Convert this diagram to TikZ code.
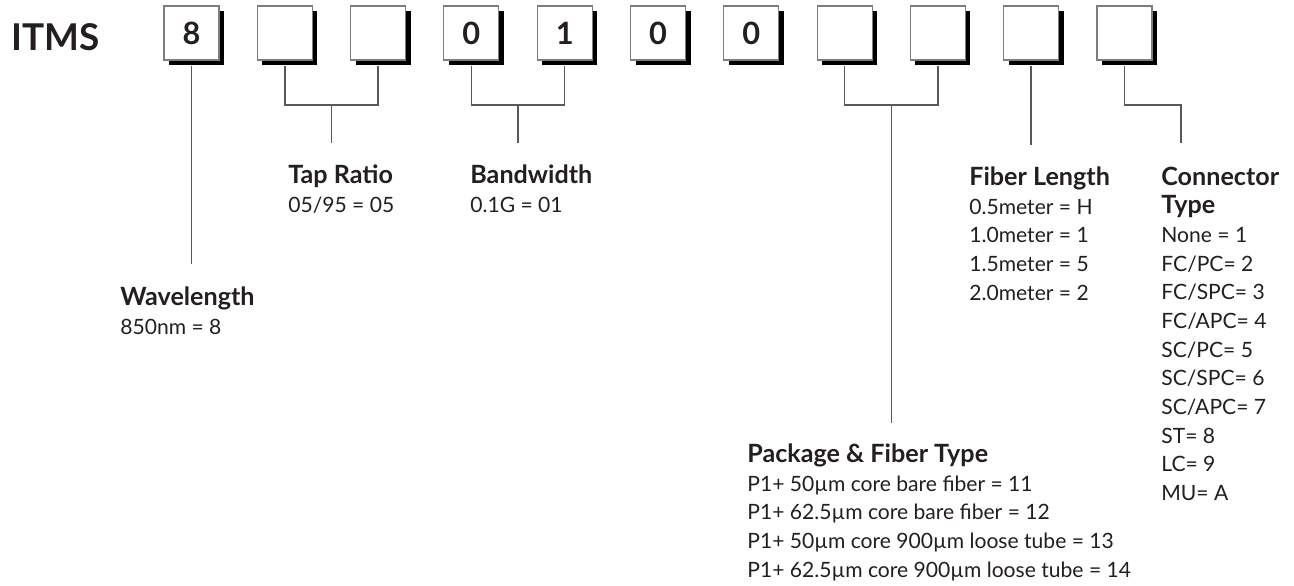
\documentclass[tikz,border=0pt]{standalone}
\usepackage{fontspec}
\setmainfont{Lato}
\usetikzlibrary{positioning,shadows}
\definecolor{inkDark}{RGB}{35,31,32}
\definecolor{lineGray}{RGB}{88,89,91}
\definecolor{boxGray}{RGB}{125,125,128}
\newcommand{\hdr}[1]{{\fontsize{14.3}{16.3}\selectfont\bfseries #1}}

\begin{document}
\begin{tikzpicture}[
        dg/.style={rectangle,draw=boxGray,fill=white,line width=0.6pt,
                   minimum width=1.1cm,minimum height=1.08cm,inner sep=0pt,
                   font=\fontsize{17.5}{17.5}\selectfont\bfseries,text=inkDark,
                   drop shadow={shadow xshift=.1cm,shadow yshift=-.1cm,
                                fill=black,opacity=1}},
        ln/.style={lineGray,line width=0.85pt},
        lbl/.style={anchor=north west,inner sep=0pt,align=left,text=inkDark,
                    font=\fontsize{12}{16.3}\selectfont}]
  \useasboundingbox (0,0) rectangle (25.88,-11.72);
  \node[anchor=base west,inner sep=0pt,text=inkDark,
        font=\fontsize{21}{21}\selectfont\bfseries] (itms) at (0.22,-1.0) {ITMS};
  % code boxes
  \node[dg] (b1)  at (3.83,-0.66)   {8};
  \node[dg] (b2)  at (5.696,-0.66)  {};
  \node[dg] (b3)  at (7.562,-0.66)  {};
  \node[dg] (b4)  at (9.428,-0.66)  {0};
  \node[dg] (b5)  at (11.294,-0.66) {1};
  \node[dg] (b6)  at (13.16,-0.66)  {0};
  \node[dg] (b7)  at (15.026,-0.66) {0};
  \node[dg] (b8)  at (16.892,-0.66) {};
  \node[dg] (b9)  at (18.758,-0.66) {};
  \node[dg] (b10) at (20.624,-0.66) {};
  \node[dg] (b11) at (22.49,-0.66)  {};
  % labels
  \node[lbl] (wl) at (2.40,-5.73) {\hdr{Wavelength}\\850nm = 8};
  \node[lbl] (tr) at (5.76,-3.29) {\hdr{Tap Ratio}\\05/95 = 05};
  \node[lbl] (bw) at (9.40,-3.29) {\hdr{Bandwidth}\\0.1G = 01};
  \node[lbl] (fl) at (19.38,-3.33) {\hdr{Fiber Length}\\0.5meter = H\\1.0meter = 1\\
    1.5meter = 5\\2.0meter = 2};
  \node[lbl] (ct) at (23.22,-3.33) {\hdr{Connector}\\\hdr{Type}\\None = 1\\FC/PC= 2\\
    FC/SPC= 3\\FC/APC= 4\\SC/PC= 5\\SC/SPC= 6\\SC/APC= 7\\ST= 8\\LC= 9\\MU= A};
  \node[lbl] (pf) at (14.94,-8.87) {\hdr{Package \& Fiber Type}\\
    P1+ 50µm core bare fiber = 11\\P1+ 62.5µm core bare fiber = 12\\
    P1+ 50µm core 900µm loose tube = 13\\P1+ 62.5µm core 900µm loose tube = 14};
  % junctions and line ends
  \coordinate (wlend) at (3.83,-5.28);
  \coordinate (trj)   at (6.63,-2.1);
  \coordinate (trend) at (6.63,-2.86);
  \coordinate (bwj)   at (10.36,-2.1);
  \coordinate (bwend) at (10.36,-2.86);
  \coordinate (pfj)   at (17.825,-2.1);
  \coordinate (pfend) at (17.825,-8.46);
  \coordinate (flend) at (20.624,-2.9);
  \coordinate (ctj)   at (23.62,-2.1);
  \coordinate (ctend) at (23.62,-2.86);
  % connectors
  \draw[ln] ([yshift=-.1cm]b1.south) -- (b1.south |- wlend);
  \draw[ln] ([yshift=-.1cm]b2.south) |- (trj) -| ([yshift=-.1cm]b3.south);
  \draw[ln] (trj) -- (trend);
  \draw[ln] ([yshift=-.1cm]b4.south) |- (bwj) -| ([yshift=-.1cm]b5.south);
  \draw[ln] (bwj) -- (bwend);
  \draw[ln] ([yshift=-.1cm]b8.south) |- (pfj) -| ([yshift=-.1cm]b9.south);
  \draw[ln] (pfj) -- (pfend);
  \draw[ln] ([yshift=-.1cm]b10.south) -- (b10.south |- flend);
  \draw[ln] ([yshift=-.1cm]b11.south) |- (ctj) -- (ctend);
\end{tikzpicture}
\end{document}
